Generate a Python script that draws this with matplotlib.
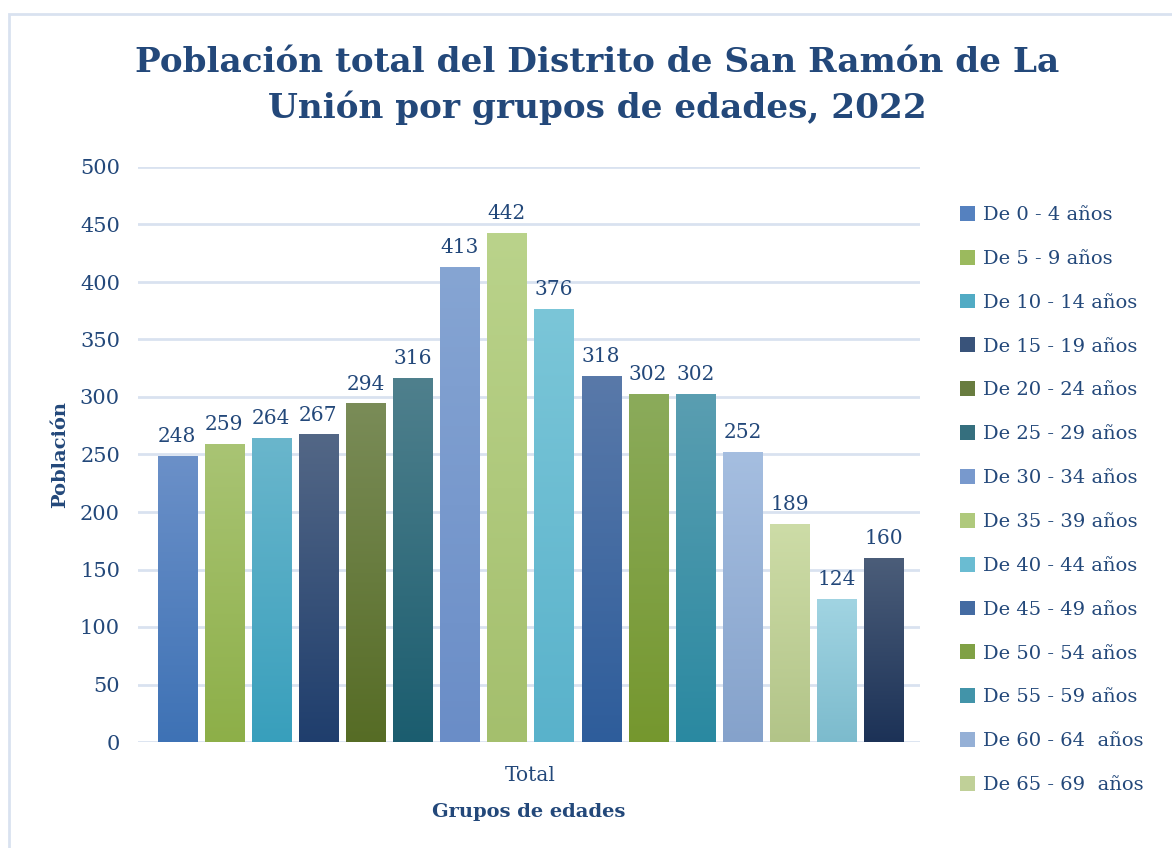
import numpy as np
import matplotlib
matplotlib.use('Agg')
import matplotlib.pyplot as plt
from matplotlib.colors import LinearSegmentedColormap
from matplotlib.patches import Rectangle

grupos = ['De 0 - 4 años', 'De 5 - 9 años', 'De 10 - 14 años', 'De 15 - 19 años',
          'De 20 - 24 años', 'De 25 - 29 años', 'De 30 - 34 años', 'De 35 - 39 años',
          'De 40 - 44 años', 'De 45 - 49 años', 'De 50 - 54 años', 'De 55 - 59 años',
          'De 60 - 64  años', 'De 65 - 69  años', 'De 70 - 74  años', 'De 75 y más años']
poblacion = [248, 259, 264, 267, 294, 316, 413, 442, 376, 318, 302, 302, 252, 189, 124, 160]

# gradient colours for each bar (top, bottom)
tops = ['#6b90c8', '#a9c474', '#6ab6cc', '#536786', '#7a8c58', '#4f808d',
        '#86a5d3', '#bad38b', '#7bc6d8', '#5979a9', '#8bab5b', '#5a9eb1',
        '#a5bee0', '#cddca7', '#a1d4e2', '#4b5d79']
bottoms = ['#3e72b5', '#8daf48', '#389fbc', '#1f3e6d', '#566c25', '#1b5d6f',
           '#6a8dc7', '#a4bf6d', '#59b2cb', '#2e5d9b', '#75972e', '#2a89a1',
           '#85a2cb', '#b2c488', '#7cbbcd', '#1c3257']

txt = '#23487a'
grid_c = '#d9e2f0'
plt.rcParams['font.family'] = ['DejaVu Serif']

fig = plt.figure(figsize=(11.72, 8.48), dpi=100)
fig.patches.append(Rectangle((9/1172, -0.1), 1.2, (848-14)/848+0.1, transform=fig.transFigure,
                             fill=False, edgecolor=grid_c, linewidth=2))
ax = fig.add_axes([138/1172, 1-742/848, (920-138)/1172, (742-167)/848])

x = np.arange(len(poblacion))
w = 0.83
handles = []
for i, v in enumerate(poblacion):
    cm = LinearSegmentedColormap.from_list('g%d' % i, [bottoms[i], tops[i]])
    grad = np.linspace(0, 1, 256).reshape(-1, 1)
    ax.imshow(grad, cmap=cm, origin='lower', aspect='auto',
              extent=(x[i]-w/2, x[i]+w/2, 0, v), zorder=2)
    handles.append(Rectangle((0, 0), 1, 1, facecolor=cm(0.5), edgecolor='none'))
    ax.text(x[i], v+9, str(v), ha='center', va='bottom', fontsize=14.5, color=txt)

ax.set_xlim(-0.83, 15.77)
ax.set_ylim(0, 500)
ax.set_yticks(range(0, 501, 50))
ax.set_xticks([7.5])
ax.set_xticklabels(['Total'])
ax.grid(axis='y', color=grid_c, linewidth=2, zorder=0)
ax.set_axisbelow(True)
for s in ax.spines.values():
    s.set_visible(False)
ax.tick_params(axis='y', length=0, labelsize=15, labelcolor=txt, pad=13)
ax.tick_params(axis='x', length=0, labelsize=14.5, labelcolor=txt, pad=17)
ax.set_ylabel('Población', fontsize=14, fontweight='bold', color=txt, labelpad=8)
ax.set_xlabel('Grupos de edades', fontsize=14, fontweight='bold', color=txt, labelpad=13)

fig.text(597/1172, 1-62/848, 'Población total del Distrito de San Ramón de La',
         ha='center', va='center', fontsize=24.7, fontweight='bold', color=txt)
fig.text(597/1172, 1-108/848, 'Unión por grupos de edades, 2022',
         ha='center', va='center', fontsize=24.7, fontweight='bold', color=txt)

fig.legend(handles[:14], grupos[:14], loc='upper left', bbox_to_anchor=(952/1172, 1-198/848),
           frameon=False, fontsize=14, labelcolor=txt, handlelength=0.8, handleheight=0.8,
           handletextpad=0.4, labelspacing=1.32, borderaxespad=0)

fig.savefig('out.png', dpi=100)
